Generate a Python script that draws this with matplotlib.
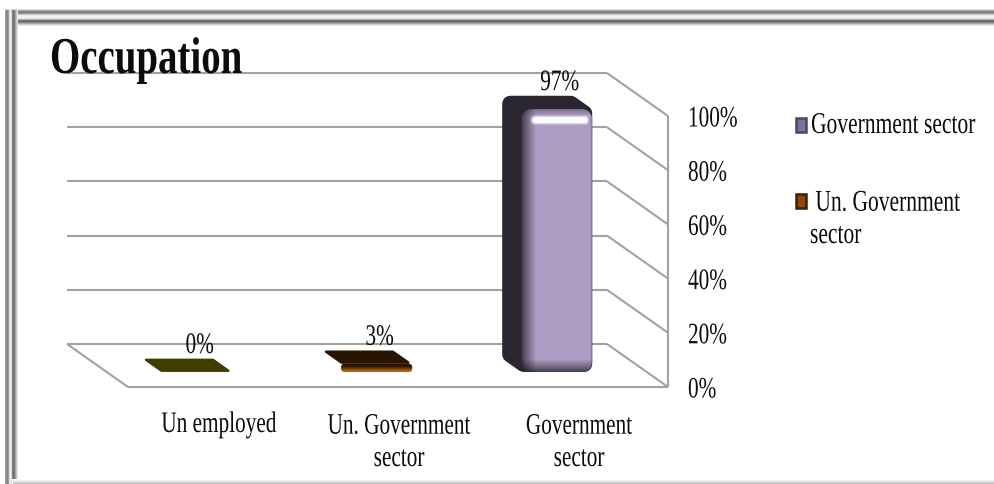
import numpy as np
import matplotlib
matplotlib.use("Agg")
import matplotlib.pyplot as plt
from matplotlib.colors import to_rgb
from matplotlib.lines import Line2D
from matplotlib.patches import PathPatch, Polygon, Rectangle
from matplotlib.path import Path
from matplotlib.patheffects import AbstractPathEffect
from matplotlib.transforms import IdentityTransform, Affine2D

# Chart content
title = "Occupation"
categories = ["Un employed", "Un. Government\nsector", "Government\nsector"]
values = [0, 3, 97]
tick_values = [0, 20, 40, 60, 80, 100]
legend_labels = ["Government sector", " Un. Government\nsector"]

# Bar colours: cap, side, face
cap_colors = ["#3f3d00", "#2a1400", "#2c2832"]
side_colors = ["#3f3d00", "#2a1400", "#2a2630"]
face_colors = ["#3f3d00", "#a85c10", "#ae9cc4"]

W, H = 995, 484
DPI = 100
DEPTH = (-61, 43)          # pixel shift from the front plane to the back wall
BAR_DEPTH = (0.35, 0.66)   # front and back of the bars as a share of the depth
BAR_WIDTH = 0.395


class Stretch(AbstractPathEffect):
    """Draws glyphs taller than the font's proportions, about the baseline."""

    def __init__(self, factor):
        super().__init__()
        self.factor = factor

    def draw_path(self, renderer, gc, tpath, affine, rgbFace=None):
        m = affine.get_matrix().copy()
        m[1, 0] *= self.factor
        m[1, 1] *= self.factor
        renderer.draw_path(gc, tpath, Affine2D(m), rgbFace)


fig = plt.figure(figsize=(W / DPI, H / DPI), dpi=DPI, facecolor="white")
ax = fig.add_axes([128 / W, (H - 387) / H, 540 / W, 271 / H])
ax.set_xlim(0, len(categories))
ax.set_ylim(0, 100)
ax.axis("off")
ax.set_zorder(3)
ident = IdentityTransform()


def project(x, y, d=0.0):
    """Category/percent position at depth d to display pixels."""
    px, py = ax.transData.transform((x, y))
    return px + DEPTH[0] * d, py + DEPTH[1] * d


def seg(p, q, color="#a2a2a2", lw=1.5, z=1):
    fig.add_artist(Line2D([p[0], q[0]], [p[1], q[1]], color=color, lw=lw,
                          transform=ident, zorder=z, solid_capstyle="butt"))


def label(xp, yp, s, size=15.3, ha="center", k=1.4, weight="normal", z=8, ls=1.2):
    return fig.text(xp, yp, s, transform=ident, ha=ha, va="baseline", fontsize=size,
                    family="Liberation Serif", weight=weight, color="#0c0c0c", zorder=z,
                    linespacing=ls, path_effects=[Stretch(k)])


# Double bevelled border, one pixel strip per grey level
top_band = {9: .88, 10: .66, 11: .52, 12: .50, 13: .60, 14: .78, 15: .92, 16: .95, 17: .95,
            18: .90, 19: .70, 20: .44, 21: .42, 22: .52, 23: .66, 24: .80, 25: .92}
left_band = {5: .62, 6: .53, 7: .53, 8: .62, 9: .86, 10: .94, 11: .86, 12: .50, 13: .44,
             14: .50, 15: .63, 16: .76, 17: .90}
for y, g in top_band.items():
    x0 = 5 if y < 19 else 12
    fig.add_artist(Rectangle((x0, H - y - 1), W - x0, 1, transform=ident, color=str(g), lw=0, zorder=0))
for x, g in left_band.items():
    y0 = 484 if x < 12 else 479
    fig.add_artist(Rectangle((x, H - y0), 1, y0 - 10, transform=ident, color=str(g), lw=0, zorder=0))
for y, g in {480: .95, 481: .90, 482: .82, 483: .74}.items():
    fig.add_artist(Rectangle((13, H - y - 1), W - 13, 1, transform=ident, color=str(g), lw=0, zorder=0))

# Walls and floor
n = len(categories)
for v in tick_values:
    seg(project(0, v, 1), project(n, v, 1))
    seg(project(n, v, 1), project(n, v, 0))
seg(project(0, 0, 1), project(0, 0, 0))
seg(project(0, 0, 0), project(n, 0, 0))
seg(project(n, 0, 0), project(n, 100, 0))

# Value axis labels
for v in tick_values:
    px, py = project(n, v, 0)
    label(px + 20, py - 10.5, f"{v}%", ha="left")


def rounded_rect(l, b, r, t, rad):
    k = rad * 0.45
    verts = [(l + rad, b), (r - rad, b), (r - k, b), (r, b + k), (r, b + rad), (r, t - rad),
             (r, t - k), (r - k, t), (r - rad, t), (l + rad, t), (l + k, t), (l, t - k),
             (l, t - rad), (l, b + rad), (l, b + k), (l + k, b), (l + rad, b), (l + rad, b)]
    codes = [Path.MOVETO, Path.LINETO, Path.CURVE4, Path.CURVE4, Path.CURVE4, Path.LINETO,
             Path.CURVE4, Path.CURVE4, Path.CURVE4, Path.LINETO, Path.CURVE4, Path.CURVE4,
             Path.CURVE4, Path.LINETO, Path.CURVE4, Path.CURVE4, Path.CURVE4, Path.CLOSEPOLY]
    return Path(verts, codes)


def inset_polygon(points, inset):
    """Moves each edge of a convex polygon inward by the given distance."""
    pts = np.asarray(points, float)
    area = 0.5 * np.sum(pts[:, 0] * np.roll(pts[:, 1], -1) - np.roll(pts[:, 0], -1) * pts[:, 1])
    sign = 1.0 if area > 0 else -1.0
    edges = np.roll(pts, -1, axis=0) - pts
    normals = sign * np.column_stack([-edges[:, 1], edges[:, 0]])
    normals /= np.linalg.norm(normals, axis=1, keepdims=True)
    prev = np.roll(normals, 1, axis=0)
    dots = np.sum(normals * prev, axis=1, keepdims=True)
    return pts + inset * (normals + prev) / (1 + dots)


def soft_poly(points, color, inset, z):
    """Polygon with rounded corners: shrunk inward, then stroked back out."""
    fig.add_artist(Polygon(inset_polygon(points, inset), closed=True, facecolor=color, edgecolor=color,
                           lw=inset * 2 * 72 / DPI, joinstyle="round", transform=ident, zorder=z))


def place_image(img, l, b, r, t, rad, z):
    clip = PathPatch(rounded_rect(l, b, r, t, rad), transform=ident, facecolor="none", edgecolor="none")
    im = ax.imshow(img, extent=(l, r, b, t), origin="upper", transform=ident, aspect="auto",
                   interpolation="bilinear", zorder=z)
    im.set_clip_box(fig.bbox)
    im.set_clip_path(clip)
    return im


def bevel_face(l, b, r, t, rgb, z):
    """Front of the tall bar: a flat tint with dark rims and a bright strip near the top."""
    nx, ny = int(r - l), int(t - b)
    xs = np.arange(nx)[None, :] + 0.5
    ys = np.arange(ny)[:, None] + 0.5
    shade = np.ones((ny, nx))
    shade *= 0.30 + 0.70 * np.clip(xs / 15, 0, 1) ** 0.8
    shade *= 0.62 + 0.38 * np.clip((nx - xs) / 3, 0, 1)
    shade *= 0.35 + 0.65 * np.clip((ny - ys) / 13, 0, 1) ** 0.8
    shade *= 0.72 + 0.28 * np.clip(ys / 7, 0, 1)
    img = np.clip(np.asarray(rgb)[None, None, :] * shade[:, :, None], 0, 1)
    strip = np.clip(1 - np.abs(ys - 11) / 5, 0, 1) * np.clip((xs - 9) / 5, 0, 1) * np.clip((nx - 4 - xs) / 3, 0, 1)
    strip = np.clip(strip * 1.9, 0, 1)[:, :, None]
    img = img * (1 - strip) + strip
    place_image(img, l, b, r, t, 10, z)


def low_face(l, b, r, t, top_rgb, low_rgb, z):
    """Front of a low bar: the cap colour running down into a lit lower edge."""
    ny = max(int(round(t - b)), 2)
    f = np.clip((np.linspace(0, 1, ny) - 0.35) / 0.5, 0, 1)[:, None, None]
    img = (1 - f) * np.asarray(top_rgb)[None, None, :] + f * np.asarray(low_rgb)[None, None, :]
    place_image(img, l, b, r, t, 3, z)


for i, (cat, val) in enumerate(zip(categories, values)):
    xl, xr = i + 0.5 - BAR_WIDTH / 2, i + 0.5 + BAR_WIDTH / 2
    d0, d1 = BAR_DEPTH
    outline = [project(xl, 0, d0), project(xl, 0, d1), project(xl, val, d1), project(xr, val, d1),
               project(xr, val, d0), project(xr, 0, d0)]
    cap = [project(xl, val, d0), project(xl, val, d1), project(xr, val, d1), project(xr, val, d0)]
    l, t = project(xl, val, d0)
    r, b = project(xr, 0, d0)
    if val > 20:
        soft_poly(outline, side_colors[i], 8, 2)
        bevel_face(l, b, r, t, to_rgb(face_colors[i]), 3)
    else:
        if t - b > 0:
            low_face(l, b, r, t, to_rgb(cap_colors[i]), to_rgb(face_colors[i]), 2)
        soft_poly(cap, cap_colors[i], 1.2, 4)
    px, _ = project(i + 0.5, val, d0)
    label(px + 3, t + 19, f"{val}%", z=9)

# Category labels under the floor
for i, cat in enumerate(categories):
    px, _ = project(i + 0.5, 0, 0)
    y_base = H - (466 if "\n" in cat else 432)
    label(px + 1, y_base, cat, ls=1.95)

# Legend keys and entries
key_fill = [("#4d4466", "#7f7199"), ("#3f1e00", "#8a480c")]
for (x0, y0), (edge, fill) in zip([(796, 118), (796, 194)], key_fill):
    fig.add_artist(Rectangle((x0, H - y0 - 14), 10, 14, transform=ident, facecolor=fill,
                             edgecolor=edge, lw=1.8, zorder=5))
label(811, H - 133, legend_labels[0], ha="left", size=15.5)
label(810, H - 243, legend_labels[1], ha="left", size=15.5, ls=1.95)

label(50, H - 73, title, size=28, ha="left", k=1.33, weight="bold", z=10)

fig.savefig("out.png", dpi=DPI, facecolor="white")
